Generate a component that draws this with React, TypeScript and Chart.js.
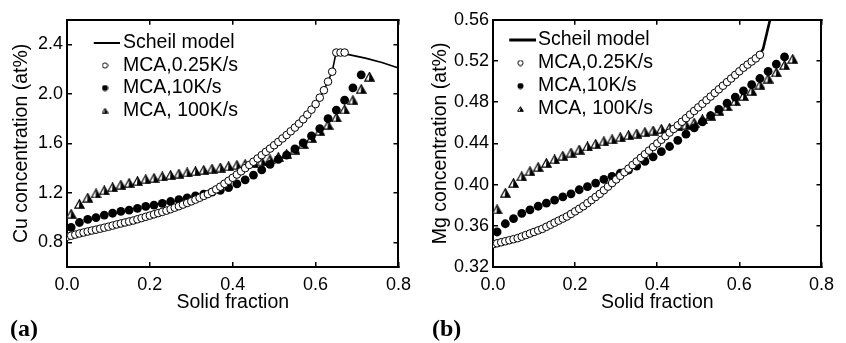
import React, { useEffect, useRef } from "react";
import { Chart, registerables } from "chart.js";

Chart.register(...registerables);

const FONT = "'Liberation Sans', Arial, Helvetica, sans-serif";

// ---------------- Panel (a): Cu concentration ----------------
const cuOpenX = [
  0.0, 0.01, 0.02, 0.03, 0.04, 0.05, 0.06, 0.07, 0.08, 0.09,
  0.1, 0.11, 0.12, 0.13, 0.14, 0.15, 0.16, 0.17, 0.18, 0.19,
  0.2, 0.21, 0.22, 0.23, 0.24, 0.25, 0.26, 0.27, 0.28, 0.29,
  0.3, 0.31, 0.32, 0.33, 0.34, 0.35, 0.36, 0.37, 0.38, 0.39,
  0.4, 0.41, 0.42, 0.43, 0.44, 0.45, 0.46, 0.47, 0.48, 0.49,
  0.5, 0.51, 0.52, 0.53, 0.54, 0.55, 0.56, 0.57, 0.58, 0.59,
  0.6, 0.61, 0.62, 0.63, 0.64, 0.65, 0.66, 0.67,
];
const cuOpenY = [
  0.845, 0.853, 0.862, 0.871, 0.879, 0.887, 0.895, 0.902, 0.91, 0.918,
  0.926, 0.935, 0.944, 0.952, 0.96, 0.968, 0.976, 0.986, 0.996, 1.006,
  1.016, 1.026, 1.036, 1.046, 1.056, 1.068, 1.08, 1.092, 1.105, 1.118,
  1.131, 1.145, 1.16, 1.175, 1.19, 1.208, 1.228, 1.25, 1.274, 1.298,
  1.322, 1.348, 1.374, 1.4, 1.426, 1.452, 1.478, 1.505, 1.532, 1.558,
  1.585, 1.612, 1.64, 1.668, 1.698, 1.728, 1.76, 1.795, 1.833, 1.873,
  1.918, 1.97, 2.03, 2.1, 2.18, 2.335, 2.335, 2.335,
];
const cuFilledX = [
  0.01, 0.03, 0.05, 0.07, 0.09, 0.11, 0.13, 0.15, 0.17, 0.19,
  0.21, 0.23, 0.25, 0.27, 0.29, 0.31, 0.33, 0.35, 0.37, 0.39,
  0.41, 0.43, 0.45, 0.47, 0.49, 0.51, 0.53, 0.55, 0.57, 0.59,
  0.61, 0.63, 0.65, 0.67, 0.69, 0.71,
];
const cuFilledY = [
  0.92, 0.96, 0.985, 1.0, 1.02, 1.035, 1.05, 1.06, 1.075, 1.09,
  1.1, 1.115, 1.13, 1.145, 1.16, 1.175, 1.19, 1.205, 1.22, 1.243,
  1.272, 1.305, 1.344, 1.385, 1.43, 1.47, 1.505, 1.555, 1.605, 1.66,
  1.72, 1.8, 1.87, 1.95, 2.05, 2.155,
];
const cuTriX = [
  0.01, 0.03, 0.05, 0.07, 0.09, 0.11, 0.13, 0.15, 0.17, 0.19,
  0.21, 0.23, 0.25, 0.27, 0.29, 0.31, 0.33, 0.35, 0.37, 0.39,
  0.41, 0.43, 0.45, 0.47, 0.49, 0.51, 0.53, 0.55, 0.57, 0.59,
  0.61, 0.63, 0.65, 0.67, 0.69, 0.71, 0.73,
];
const cuTriY = [
  1.03, 1.11, 1.16, 1.195, 1.22, 1.245, 1.265, 1.28, 1.295, 1.31,
  1.32, 1.333, 1.344, 1.355, 1.365, 1.375, 1.385, 1.395, 1.405, 1.415,
  1.425, 1.432, 1.44, 1.455, 1.47, 1.49, 1.515, 1.55, 1.595, 1.645,
  1.7, 1.75, 1.81, 1.875, 1.95, 2.04, 2.14,
];
const cuScheilX = [0.0, 0.1, 0.2, 0.3, 0.4, 0.5, 0.55, 0.6, 0.62, 0.64, 0.65, 0.68, 0.72, 0.76, 0.8];
const cuScheilY = [0.845, 0.926, 1.016, 1.131, 1.322, 1.585, 1.728, 1.918, 2.03, 2.18, 2.345, 2.318, 2.29, 2.255, 2.21];
const cuYTicks = [0.8, 1.2, 1.6, 2.0, 2.4];

// ---------------- Panel (b): Mg concentration ----------------
const mgOpenX = [
  0.0, 0.01, 0.02, 0.03, 0.04, 0.05, 0.06, 0.07, 0.08, 0.09,
  0.1, 0.11, 0.12, 0.13, 0.14, 0.15, 0.16, 0.17, 0.18, 0.19,
  0.2, 0.21, 0.22, 0.23, 0.24, 0.25, 0.26, 0.27, 0.28, 0.29,
  0.3, 0.31, 0.32, 0.33, 0.34, 0.35, 0.36, 0.37, 0.38, 0.39,
  0.4, 0.41, 0.42, 0.43, 0.44, 0.45, 0.46, 0.47, 0.48, 0.49,
  0.5, 0.51, 0.52, 0.53, 0.54, 0.55, 0.56, 0.57, 0.58, 0.59,
  0.6, 0.61, 0.62, 0.63, 0.64, 0.65,
];
const mgOpenY = [
  0.342, 0.343, 0.344, 0.345, 0.346, 0.347, 0.348, 0.3495, 0.351, 0.3525,
  0.354, 0.3555, 0.357, 0.359, 0.361, 0.363, 0.365, 0.367, 0.369, 0.3715,
  0.374, 0.3765, 0.379, 0.382, 0.385, 0.388, 0.391, 0.3945, 0.398, 0.4015,
  0.405, 0.4085, 0.412, 0.4155, 0.419, 0.4225, 0.426, 0.4295, 0.433, 0.4365,
  0.44, 0.4435, 0.447, 0.4505, 0.454, 0.4575, 0.461, 0.4645, 0.468, 0.4715,
  0.475, 0.4785, 0.482, 0.4855, 0.489, 0.4925, 0.496, 0.4995, 0.503, 0.5065,
  0.51, 0.5135, 0.5165, 0.5195, 0.5225, 0.526,
];
const mgFilledX = [
  0.01, 0.03, 0.05, 0.07, 0.09, 0.11, 0.13, 0.15, 0.17, 0.19,
  0.21, 0.23, 0.25, 0.27, 0.29, 0.31, 0.33, 0.35, 0.37, 0.39,
  0.41, 0.43, 0.45, 0.47, 0.49, 0.51, 0.53, 0.55, 0.57, 0.59,
  0.61, 0.63, 0.65, 0.67, 0.69, 0.71,
];
const mgFilledY = [
  0.354, 0.362, 0.367, 0.372, 0.3755, 0.379, 0.382, 0.385, 0.388, 0.391,
  0.395, 0.398, 0.4015, 0.405, 0.408, 0.411, 0.414, 0.418, 0.4225, 0.427,
  0.432, 0.437, 0.443, 0.449, 0.455, 0.461, 0.467, 0.473, 0.479, 0.485,
  0.491, 0.497, 0.503, 0.51, 0.517, 0.524,
];
const mgTriX = [
  0.01, 0.03, 0.05, 0.07, 0.09, 0.11, 0.13, 0.15, 0.17, 0.19,
  0.21, 0.23, 0.25, 0.27, 0.29, 0.31, 0.33, 0.35, 0.37, 0.39,
  0.41, 0.43, 0.45, 0.47, 0.49, 0.51, 0.53, 0.55, 0.57, 0.59,
  0.61, 0.63, 0.65, 0.67, 0.69, 0.71, 0.73,
];
const mgTriY = [
  0.376, 0.392, 0.4015, 0.408, 0.413, 0.417, 0.421, 0.4245, 0.428, 0.431,
  0.434, 0.437, 0.4395, 0.442, 0.444, 0.446, 0.448, 0.4495, 0.451, 0.4525,
  0.454, 0.455, 0.4565, 0.458, 0.46, 0.4635, 0.467, 0.4715, 0.476, 0.481,
  0.486, 0.491, 0.497, 0.503, 0.509, 0.516, 0.522,
];
const mgScheilX = [0.0, 0.1, 0.2, 0.3, 0.4, 0.5, 0.6, 0.65, 0.658, 0.674, 0.69];
const mgScheilY = [0.342, 0.354, 0.374, 0.405, 0.44, 0.475, 0.51, 0.526, 0.532, 0.559, 0.588];
const mgYTicks = [0.32, 0.36, 0.4, 0.44, 0.48, 0.52, 0.56];

// ---------------- Shared labels ----------------
const xTicks = [0.0, 0.2, 0.4, 0.6, 0.8];
const seriesNames = ["Scheil model", "MCA,0.25K/s", "MCA,10K/s", "MCA, 100K/s"];
const xTitle = "Solid fraction";
const cuTitle = "Cu concentration (at%)";
const mgTitle = "Mg concentration (at%)";

// ---------------- Marker images ----------------
function mk(w: number, h: number, draw: (c: CanvasRenderingContext2D) => void) {
  const cv = document.createElement("canvas");
  cv.width = w;
  cv.height = h;
  const c = cv.getContext("2d")!;
  draw(c);
  return cv;
}

function halfTri(w: number, h: number, lw: number) {
  return mk(w, h, (c) => {
    const m = lw / 2 + 0.2;
    const path = () => {
      c.beginPath();
      c.moveTo(w / 2, m);
      c.lineTo(w - m, h - m);
      c.lineTo(m, h - m);
      c.closePath();
    };
    path();
    c.fillStyle = "#fff";
    c.fill();
    c.beginPath();
    c.moveTo(w / 2, m);
    c.lineTo(w - m, h - m);
    c.lineTo(w / 2 - 0.5, h - m);
    c.closePath();
    c.fillStyle = "#000";
    c.fill();
    path();
    c.lineWidth = lw;
    c.strokeStyle = "#000";
    c.stroke();
  });
}

const triMarker = halfTri(11, 10, 1.2);
const legTri = halfTri(7, 6, 1);
const legOpen = mk(7, 7, (c) => {
  c.beginPath();
  c.arc(3.5, 3.5, 2.6, 0, Math.PI * 2);
  c.fillStyle = "#fff";
  c.fill();
  c.lineWidth = 1;
  c.strokeStyle = "#000";
  c.stroke();
});
const legFilled = mk(7, 7, (c) => {
  c.beginPath();
  c.arc(3.5, 3.5, 3, 0, Math.PI * 2);
  c.fillStyle = "#000";
  c.fill();
});
const legLine = (lw: number) =>
  mk(30, 6, (c) => {
    c.fillStyle = "#000";
    c.fillRect(0, (6 - lw) / 2, 30, lw);
  });

const pts = (xs: number[], ys: number[]) => xs.map((x, i) => ({ x, y: ys[i] }));
const setTicks = (vals: number[]) => (s: any) => {
  s.ticks = vals.map((v) => ({ value: v }));
};

const legendMove = {
  id: "legendMove",
  afterLayout(chart: any, _args: any, opts: any) {
    const lg = chart.legend;
    if (!lg) return;
    lg.left = opts.x;
    lg.top = opts.y;
    lg.width = 320;
    lg.height = 200;
    lg.right = opts.x + 320;
    lg.bottom = opts.y + 200;
  },
};

type Panel = {
  openX: number[]; openY: number[];
  filledX: number[]; filledY: number[];
  triX: number[]; triY: number[];
  scheilX: number[]; scheilY: number[];
  yMin: number; yMax: number; yTicks: number[]; yDec: number;
  yTitle: string; yTitlePad: number; yWidth: number; padRight: number;
  lineW: number; legLineW: number;
  legX: number; legY: number; legBox: number; legPad: number;
};

function buildConfig(p: Panel): any {
  const grid = {
    display: true,
    drawOnChartArea: false,
    drawTicks: true,
    tickLength: -5,
    color: "#000",
    lineWidth: 1.5,
  };
  const border = { display: true, color: "#000", width: 2 };
  const legSyms = [legLine(p.legLineW), legOpen, legFilled, legTri];
  return {
    type: "scatter",
    data: {
      datasets: [
        {
          label: seriesNames[0],
          data: pts(p.scheilX, p.scheilY),
          showLine: true,
          borderColor: "#000",
          backgroundColor: "#000",
          borderWidth: p.lineW,
          pointRadius: 0,
          pointHoverRadius: 0,
          tension: 0,
          order: 4,
          clip: 0,
        },
        {
          label: seriesNames[1],
          data: pts(p.openX, p.openY),
          pointStyle: "circle",
          pointRadius: 3.8,
          borderWidth: 1,
          borderColor: "#000",
          backgroundColor: "#fff",
          order: 1,
          clip: 0,
        },
        {
          label: seriesNames[2],
          data: pts(p.filledX, p.filledY),
          pointStyle: "circle",
          pointRadius: 4.4,
          borderWidth: 0,
          borderColor: "#000",
          backgroundColor: "#000",
          order: 2,
          clip: 0,
        },
        {
          label: seriesNames[3],
          data: pts(p.triX, p.triY),
          pointStyle: triMarker,
          pointRadius: 5,
          borderWidth: 0,
          order: 3,
          clip: 0,
        },
      ],
    },
    plugins: [legendMove],
    options: {
      responsive: false,
      animation: false,
      events: [],
      layout: { padding: { left: 0, top: 17, right: p.padRight, bottom: 26 } },
      plugins: {
        tooltip: { enabled: false },
        title: { display: false },
        legendMove: { x: p.legX, y: p.legY },
        legend: {
          display: true,
          position: "chartArea",
          align: "start",
          labels: {
            usePointStyle: true,
            boxWidth: p.legBox,
            padding: p.legPad,
            color: "#000",
            font: { size: 19.5, family: FONT },
            generateLabels: () =>
              seriesNames.map((name, i) => ({
                text: name,
                datasetIndex: i,
                pointStyle: legSyms[i],
                fillStyle: "#000",
                strokeStyle: "#000",
                lineWidth: 0,
                hidden: false,
                fontColor: "#000",
              })),
          },
        },
      },
      scales: {
        x: {
          type: "linear",
          position: "bottom",
          min: 0,
          max: 0.8,
          afterBuildTicks: setTicks(xTicks),
          ticks: {
            color: "#000",
            font: { size: 18, family: FONT },
            padding: 12,
            maxRotation: 0,
            autoSkip: false,
            callback: (v: any) => Number(v).toFixed(1),
          },
          grid,
          border,
          title: {
            display: true,
            text: xTitle,
            color: "#000",
            font: { size: 19.5, family: FONT },
            padding: { top: 0, bottom: 3 },
          },
          afterFit: (s: any) => {
            s.height = 50;
          },
        },
        y: {
          type: "linear",
          position: "left",
          min: p.yMin,
          max: p.yMax,
          afterBuildTicks: setTicks(p.yTicks),
          ticks: {
            color: "#000",
            font: { size: 18, family: FONT },
            padding: 9,
            autoSkip: false,
            callback: (v: any) => Number(v).toFixed(p.yDec),
          },
          grid,
          border,
          title: {
            display: true,
            text: p.yTitle,
            color: "#000",
            font: { size: 19.5, family: FONT },
            padding: { top: p.yTitlePad, bottom: 0 },
          },
          afterFit: (s: any) => {
            s.width = p.yWidth;
          },
        },
        x2: {
          type: "linear",
          position: "top",
          min: 0,
          max: 0.8,
          afterBuildTicks: setTicks(xTicks),
          ticks: { display: false },
          grid,
          border,
          afterFit: (s: any) => {
            s.height = 0;
          },
        },
        y2: {
          type: "linear",
          position: "right",
          min: p.yMin,
          max: p.yMax,
          afterBuildTicks: setTicks(p.yTicks),
          ticks: { display: false },
          grid,
          border,
          afterFit: (s: any) => {
            s.width = 0;
          },
        },
      },
    },
  };
}

const panelA: Panel = {
  openX: cuOpenX, openY: cuOpenY,
  filledX: cuFilledX, filledY: cuFilledY,
  triX: cuTriX, triY: cuTriY,
  scheilX: cuScheilX, scheilY: cuScheilY,
  yMin: 0.6, yMax: 2.6, yTicks: cuYTicks, yDec: 1,
  yTitle: cuTitle, yTitlePad: 10, yWidth: 67, padRight: 17,
  lineW: 1.6, legLineW: 2,
  legX: 93.75, legY: 30.25, legBox: 16.5, legPad: 3,
};

const panelB: Panel = {
  openX: mgOpenX, openY: mgOpenY,
  filledX: mgFilledX, filledY: mgFilledY,
  triX: mgTriX, triY: mgTriY,
  scheilX: mgScheilX, scheilY: mgScheilY,
  yMin: 0.32, yMax: 0.56, yTicks: mgYTicks, yDec: 2,
  yTitle: mgTitle, yTitlePad: 6, yWidth: 70, padRight: 14,
  lineW: 2.6, legLineW: 3,
  legX: 86.25, legY: 26.75, legBox: 15.5, legPad: 3.5,
};

function ChartPanel({ panel, left }: { panel: Panel; left: number }) {
  const ref = useRef<HTMLCanvasElement | null>(null);
  useEffect(() => {
    if (!ref.current) return;
    Chart.defaults.font.family = FONT;
    const chart = new Chart(ref.current, buildConfig(panel));
    return () => chart.destroy();
  }, [panel]);
  return (
    <canvas
      ref={ref}
      width={423}
      height={343}
      style={{ position: "absolute", left, top: 0, width: 423, height: 343 }}
    />
  );
}

const panelTag: React.CSSProperties = {
  position: "absolute",
  fontFamily: "'Liberation Serif', 'Times New Roman', serif",
  fontWeight: "bold",
  fontSize: 24,
  lineHeight: "24px",
  color: "#000",
};

export default function App() {
  return (
    <div
      style={{
        position: "absolute",
        left: 0,
        top: 0,
        width: 846,
        height: 343,
        background: "#fff",
        overflow: "hidden",
      }}
    >
      <ChartPanel panel={panelA} left={0} />
      <ChartPanel panel={panelB} left={423} />
      <div style={{ ...panelTag, left: 10, top: 316 }}>(a)</div>
      <div style={{ ...panelTag, left: 432, top: 316 }}>(b)</div>
    </div>
  );
}
